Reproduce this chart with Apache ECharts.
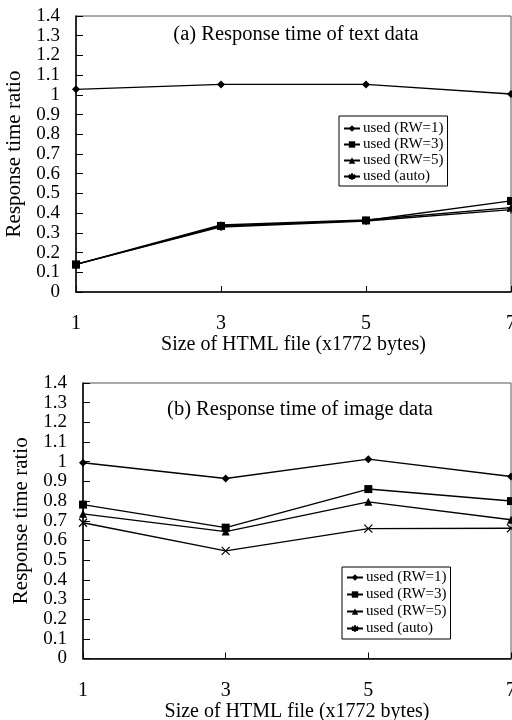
<!DOCTYPE html>
<html>
<head>
<meta charset="utf-8">
<script src="https://cdn.jsdelivr.net/npm/echarts@6/dist/echarts.min.js"></script>
<style>html,body{margin:0;padding:0;background:#fff}#c{width:512px;height:720px}</style>
</head>
<body>
<div id="c"></div>
<script>
const sizes = [1, 3, 5, 7];
const seriesNames = ['used (RW=1)', 'used (RW=3)', 'used (RW=5)', 'used (auto)'];
const textRW1 = [1.028, 1.053, 1.053, 1.004];
const textRW3 = [0.14, 0.335, 0.363, 0.462];
const textRW5 = [0.14, 0.34, 0.365, 0.428];
const textAuto = [0.14, 0.33, 0.36, 0.418];
const imageRW1 = [0.995, 0.915, 1.013, 0.925];
const imageRW3 = [0.782, 0.665, 0.861, 0.80];
const imageRW5 = [0.735, 0.645, 0.796, 0.705];
const imageAuto = [0.69, 0.547, 0.66, 0.662];
const titleA = '(a) Response time of text data';
const titleB = '(b) Response time of image data';
const xName = 'Size of HTML file (x1772 bytes)';
const yName = 'Response time ratio';

const FONT = 'Liberation Serif';
const asterisk = 'path://M5,0L5,10M0.7,2.5L9.3,7.5M9.3,2.5L0.7,7.5';
const cross = 'path://M0,0L10,10M10,0L0,10';
const symbols = [['diamond', 8], ['rect', 8], ['triangle', 8], [null, 8]];

function mk(vals, idx, grid, autoSym) {
  const sym = idx === 3 ? autoSym : symbols[idx][0];
  const s = {
    name: seriesNames[idx], type: 'line', xAxisIndex: grid, yAxisIndex: grid,
    data: sizes.map((x, i) => [x, vals[i]]),
    symbol: sym, symbolSize: symbols[idx][1], showAllSymbol: true,
    lineStyle: { color: '#000', width: 1.4 },
    itemStyle: { color: '#000' },
    emphasis: { disabled: true }, animation: false, z: 3
  };
  if (idx === 3) s.itemStyle = { color: 'transparent', borderColor: '#000', borderWidth: 1.2 };
  return s;
}

function xAxis(grid, gap) {
  return {
    gridIndex: grid, type: 'value', min: 1, max: 7, interval: 2,
    name: xName, nameLocation: 'middle', nameGap: gap,
    nameTextStyle: { fontFamily: FONT, fontSize: 20, color: '#000' },
    axisLine: { lineStyle: { color: '#000', width: 1.5 } },
    axisTick: { inside: true, length: 6, lineStyle: { color: '#000' } },
    axisLabel: { fontFamily: FONT, fontSize: 20, color: '#000', margin: 22, showMinLabel: true, showMaxLabel: true },
    splitLine: { show: false }
  };
}
function yAxis(grid, gap) {
  return {
    gridIndex: grid, type: 'value', min: 0, max: 1.4, interval: 0.1,
    name: yName, nameLocation: 'middle', nameGap: gap, nameRotate: 90,
    nameTextStyle: { fontFamily: FONT, fontSize: 21, color: '#000' },
    axisLine: { lineStyle: { color: '#000', width: 1.5 } },
    axisTick: { inside: true, length: 7, lineStyle: { color: '#000' } },
    axisLabel: { fontFamily: FONT, fontSize: 19, color: '#000', margin: 16 },
    splitLine: { show: false }
  };
}
function legend(left, top, gap, pad) {
  return {
    data: seriesNames, orient: 'vertical', left: left, top: top,
    borderColor: '#000', borderWidth: 1, padding: pad, itemGap: gap,
    itemWidth: 16, itemHeight: 8, selectedMode: false,
    textStyle: { fontFamily: FONT, fontSize: 15, color: '#000', padding: [0, 0, 0, -2] }
  };
}

const chart = echarts.init(document.getElementById('c'));
chart.setOption({
  animation: false,
  backgroundColor: '#fff',
  title: [
    { text: titleA, left: 296, top: 24, textAlign: 'center', padding: 0,
      textStyle: { fontFamily: FONT, fontSize: 20.5, fontWeight: 'normal', color: '#000' } },
    { text: titleB, left: 300, top: 399, textAlign: 'center', padding: 0,
      textStyle: { fontFamily: FONT, fontSize: 20.5, fontWeight: 'normal', color: '#000' } }
  ],
  grid: [
    { left: 76, top: 16, width: 435, height: 276, show: true, borderColor: '#555', borderWidth: 1, outerBoundsMode: 'none' },
    { left: 83, top: 383, width: 428, height: 275.5, show: true, borderColor: '#555', borderWidth: 1, outerBoundsMode: 'none' }
  ],
  xAxis: [xAxis(0, 43), xAxis(1, 43)],
  yAxis: [yAxis(0, 46), yAxis(1, 49)],
  legend: [legend(339, 116, 1, [5, 4, 2, 4]), legend(342, 567, 2, [3, 4, 3, 4])],
  series: [
    mk(textRW1, 0, 0, asterisk), mk(textRW3, 1, 0, asterisk), mk(textRW5, 2, 0, asterisk), mk(textAuto, 3, 0, asterisk),
    mk(imageRW1, 0, 1, cross), mk(imageRW3, 1, 1, cross), mk(imageRW5, 2, 1, cross), mk(imageAuto, 3, 1, cross)
  ]
});
</script>
</body>
</html>
